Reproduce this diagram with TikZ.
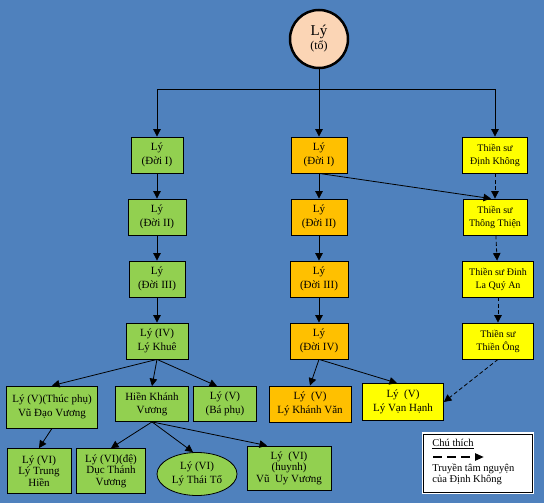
\documentclass[tikz,border=0pt]{standalone}
\usepackage{fontspec}
\setmainfont{Liberation Serif}
\usetikzlibrary{positioning, arrows.meta, shapes.geometric}
\definecolor{bgblue}{RGB}{79,129,189}
\definecolor{leaf}{RGB}{146,208,80}
\definecolor{amber}{RGB}{255,192,0}
\definecolor{lemon}{RGB}{255,255,0}
\definecolor{peach}{RGB}{251,213,181}

\begin{document}
\begin{tikzpicture}[x=1pt, y=-1pt, node distance=62pt, on grid, line width=0.8pt,
    >={Triangle[length=7.5pt,width=7.5pt]},
    box/.style={draw, rectangle, align=center, inner sep=1pt, minimum height=36pt,
      font=\fontsize{11}{13.5}\selectfont},
    gbox/.style={box, fill=leaf},
    obox/.style={box, fill=amber},
    ybox/.style={box, fill=lemon, font=\fontsize{10}{13}\selectfont},
    tall/.style={minimum height=45pt, font=\fontsize{11}{11.5}\selectfont},
    tam/.style={->, dash pattern=on 4pt off 2.5pt}]
  \fill[bgblue] (0,0) rectangle (544,503);

  \node[circle, draw, line width=2.5pt, fill=peach, minimum size=58pt, inner sep=0pt, align=center]
    (to) at (319,39) {{\fontsize{15}{16}\selectfont Lý}\\[2pt]{\fontsize{12}{14}\selectfont (tổ)}};
  \coordinate (bus) at (319,89);

  % ho Ly
  \node[gbox, minimum width=52pt] (g1) at (157,155) {Lý\\(Đời I)};
  \node[gbox, minimum width=58pt] (g2) [below=of g1] {Lý\\(Đời II)};
  \node[gbox, minimum width=56pt] (g3) [below=of g2] {Lý\\(Đời III)};
  \node[gbox, minimum width=62pt] (g4) [below=of g3] {Lý (IV)\\Lý Khuê};

  \node[obox, minimum width=56pt] (o1) at (319,155) {Lý\\(Đời I)};
  \node[obox, minimum width=56pt] (o2) [below=of o1] {Lý\\(Đời II)};
  \node[obox, minimum width=58pt] (o3) [below=of o2] {Lý\\(Đời III)};
  \node[obox, minimum width=58pt] (o4) [below=of o3] {Lý\\(Đời IV)};

  % thien su
  \node[ybox, minimum width=65pt] (y1) at (495,155) {Thiền sư\\Định Không};
  \node[ybox, minimum width=64pt] (y2) [below=of y1] {Thiền sư\\Thông Thiện};
  \node[ybox, minimum width=71pt] (y3) [below=of y2, xshift=3pt] {Thiền sư Đinh\\La Quý An};
  \node[ybox, minimum width=71pt] (y4) [below=of y3] {Thiền sư\\Thiền Ông};

  % doi V
  \node[gbox, minimum width=91pt, minimum height=42pt] (v1) at (52,407) {Lý (V)(Thúc phụ)\\Vũ Đạo Vương};
  \node[gbox, minimum width=73pt, minimum height=35pt] (v2) at (152,404) {Hiền Khánh\\Vương};
  \node[gbox, minimum width=63pt, minimum height=35pt] (v3) at (225,404) {Lý (V)\\(Bá phụ)};
  \node[obox, minimum width=82pt] (v4) at (310,404) {Lý\enspace(V)\\Lý Khánh Văn};
  \node[ybox, minimum width=81pt, minimum height=37pt, font=\fontsize{11}{13.5}\selectfont]
    (v5) at (403,402) {Lý\enspace(V)\\Lý Vạn Hạnh};

  % doi VI
  \node[gbox, tall, minimum width=64pt] (w1) at (39,471) {Lý (VI)\\Lý Trung\\Hiền};
  \node[gbox, tall, minimum width=69pt] (w2) at (111,471) {Lý (VI)(đệ)\\Dục Thánh\\Vương};
  \node[gbox, ellipse, inner sep=0pt, minimum width=80pt, minimum height=43pt] (w3) at (197,474) {Lý (VI)\\Lý Thái Tổ};
  \node[gbox, tall, minimum width=84pt, minimum height=44pt] (w4) at (289,468) {Lý\enspace(VI)\\(huynh)\\Vũ\enspace Uy Vương};

  \draw[->] (to) -- (o1);
  \draw[->] (bus) -| (g1);
  \draw[->] (bus) -| (y1);
  \path[->]
    (g1) edge (g2)
    (g2) edge (g3)
    (g3) edge (g4)
    (o1) edge (o2)
    (o2) edge (o3)
    (o3) edge (o4)
    (o1.south) edge ([xshift=-4pt]y2.north)
    (g4.south) edge (v1.north)
      edge (v2.north)
      edge ([xshift=-8pt]v3.north)
    (o4.south) edge (v4.north)
      edge ([xshift=-6pt]v5.north)
    (v1.south) edge (w1.north)
    (v2.south) edge (w2.north)
      edge ([xshift=-4pt]w3.north)
      edge ([xshift=-22pt]w4.north);
  \path
    (y1) edge[tam] (y2)
    (y2) edge[tam] (y3)
    (y3) edge[tam] (y4)
    (y4.south) edge[tam] (v5.east);

  % chu thich
  \node[draw=white, double=black, double distance=0.8pt, line width=1.4pt, fill=white,
    minimum width=109pt, minimum height=58pt] (key) at (478,463) {};
  \node[anchor=west, inner sep=0pt, font=\fontsize{10.5}{12}\selectfont] (keyt) at (432,444) {\underline{Chú thích}};
  \coordinate (k1) at (433,457);
  \coordinate (k2) at (484,457);
  \draw[-{Triangle[length=9pt,width=7pt]}, line width=2.6pt, dash pattern=on 9pt off 5pt] (k1) -- (k2);
  \node[anchor=north west, align=left, inner sep=0pt, font=\fontsize{10.5}{11.5}\selectfont]
    (keyd) at (432,463) {Truyền tâm nguyện\\của Định Không};
\end{tikzpicture}
\end{document}
